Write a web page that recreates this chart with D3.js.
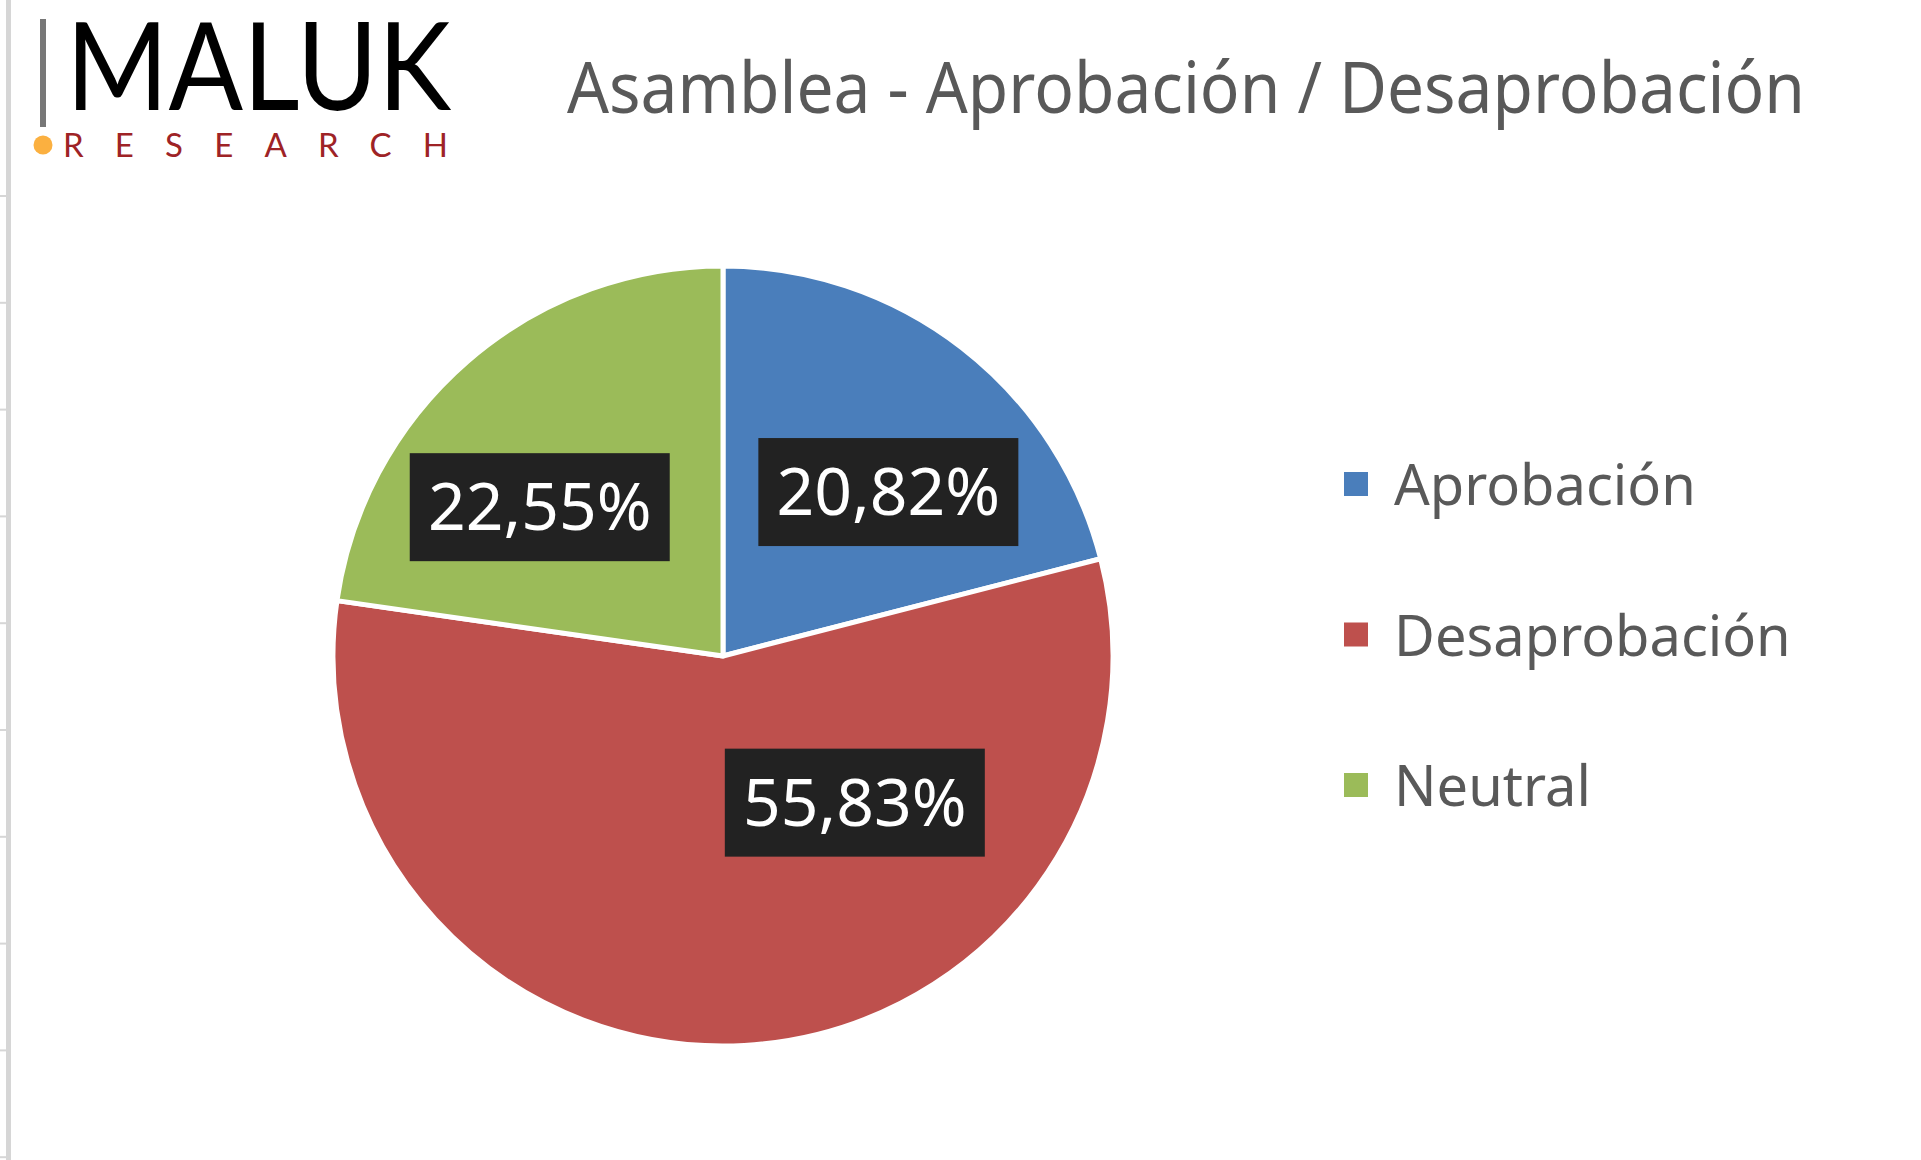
<!DOCTYPE html>
<html>
<head>
<meta charset="utf-8">
<script src="https://cdn.jsdelivr.net/npm/d3@7"></script>
<style>
  body { margin: 0; background: #fff; }
  text { font-family: "Noto Sans", "Open Sans", sans-serif; }
</style>
</head>
<body>
<div id="chart"></div>
<script>

// data
const categories = ["Aprobación", "Desaprobación", "Neutral"];
const values = [20.82, 55.83, 22.55];
const valueLabels = ["20,82%", "55,83%", "22,55%"];

const colors = ["#4a7ebb", "#be504d", "#9bbb59"];

const width = 1921;
const height = 1160;

const svg = d3.select("#chart")
    .append("svg")
    .attr("width", width)
    .attr("height", height);

// spreadsheet edge on the left
const rowLines = d3.range(196, height, 106.8);
svg.selectAll(".row-line")
    .data(rowLines)
    .enter()
    .append("line")
    .attr("x1", 0)
    .attr("x2", 8)
    .attr("y1", d => d)
    .attr("y2", d => d)
    .attr("stroke", "#d6d6d6")
    .attr("stroke-width", 2);

svg.append("rect")
    .attr("x", 6)
    .attr("y", 0)
    .attr("width", 5)
    .attr("height", height)
    .attr("fill", "#d6d6d6");

// logo
const logo = svg.append("g");

logo.append("rect")
    .attr("x", 40)
    .attr("y", 19)
    .attr("width", 6)
    .attr("height", 108)
    .attr("fill", "#777");

logo.append("text")
    .attr("x", 66)
    .attr("y", 110)
    .attr("textLength", 385)
    .attr("lengthAdjust", "spacingAndGlyphs")
    .style("font-family", "Lato, 'Noto Sans', sans-serif")
    .style("font-size", "123px")
    .attr("fill", "#000")
    .text("MALUK");

logo.append("circle")
    .attr("cx", 43)
    .attr("cy", 145)
    .attr("r", 9.5)
    .attr("fill", "#fbb040");

logo.append("text")
    .attr("x", 63)
    .attr("y", 157)
    .attr("textLength", 385)
    .attr("lengthAdjust", "spacing")
    .style("font-family", "Lato, 'Noto Sans', sans-serif")
    .style("font-size", "33px")
    .attr("fill", "#9e2326")
    .text("RESEARCH");

// title
svg.append("text")
    .attr("x", 567)
    .attr("y", 113)
    .attr("textLength", 1238)
    .attr("lengthAdjust", "spacingAndGlyphs")
    .style("font-size", "72px")
    .attr("fill", "#595959")
    .text("Asamblea - Aprobación / Desaprobación");

// pie
const cx = 723, cy = 656, radius = 390;

const pie = d3.pie()
    .sort(null)
    .value(d => d.value);

const arcPath = d3.arc()
    .innerRadius(0)
    .outerRadius(radius);

const labelArc = d3.arc()
    .innerRadius(radius * 0.6)
    .outerRadius(radius * 0.6);

// manual label nudges, like the hand-placed labels in the original
const labelNudge = [[22, 21], [119, -87], [-30, 28]];

const data = categories.map((c, i) => ({ name: c, value: values[i], label: valueLabels[i] }));

const pieGroup = svg.append("g")
    .attr("transform", `translate(${cx}, ${cy})`);

const arcs = pie(data);

pieGroup.selectAll("path")
    .data(arcs)
    .enter()
    .append("path")
    .attr("d", arcPath)
    .attr("fill", (d, i) => colors[i])
    .attr("stroke", "#fff")
    .attr("stroke-width", 5)
    .attr("stroke-linejoin", "round");

const labels = pieGroup.selectAll(".label")
    .data(arcs)
    .enter()
    .append("g")
    .attr("class", "label")
    .attr("transform", (d, i) => {
        const [x, y] = labelArc.centroid(d);
        return `translate(${x + labelNudge[i][0]}, ${y + labelNudge[i][1]})`;
    });

labels.append("rect")
    .attr("x", -130)
    .attr("y", -54)
    .attr("width", 260)
    .attr("height", 108)
    .attr("fill", "#222");

labels.append("text")
    .attr("text-anchor", "middle")
    .attr("y", 23)
    .style("font-size", "66px")
    .attr("fill", "#fff")
    .text(d => d.data.label);

// legend
const legendY = d3.scalePoint()
    .domain(categories)
    .range([484, 785]);

const legend = svg.selectAll(".legend")
    .data(categories)
    .enter()
    .append("g")
    .attr("class", "legend")
    .attr("transform", d => `translate(1344, ${legendY(d)})`);

legend.append("rect")
    .attr("x", 0)
    .attr("y", -12)
    .attr("width", 24)
    .attr("height", 24)
    .attr("fill", (d, i) => colors[i]);

legend.append("text")
    .attr("x", 50)
    .attr("y", 21)
    .style("font-size", "56px")
    .attr("fill", "#595959")
    .text(d => d);

</script>
</body>
</html>
